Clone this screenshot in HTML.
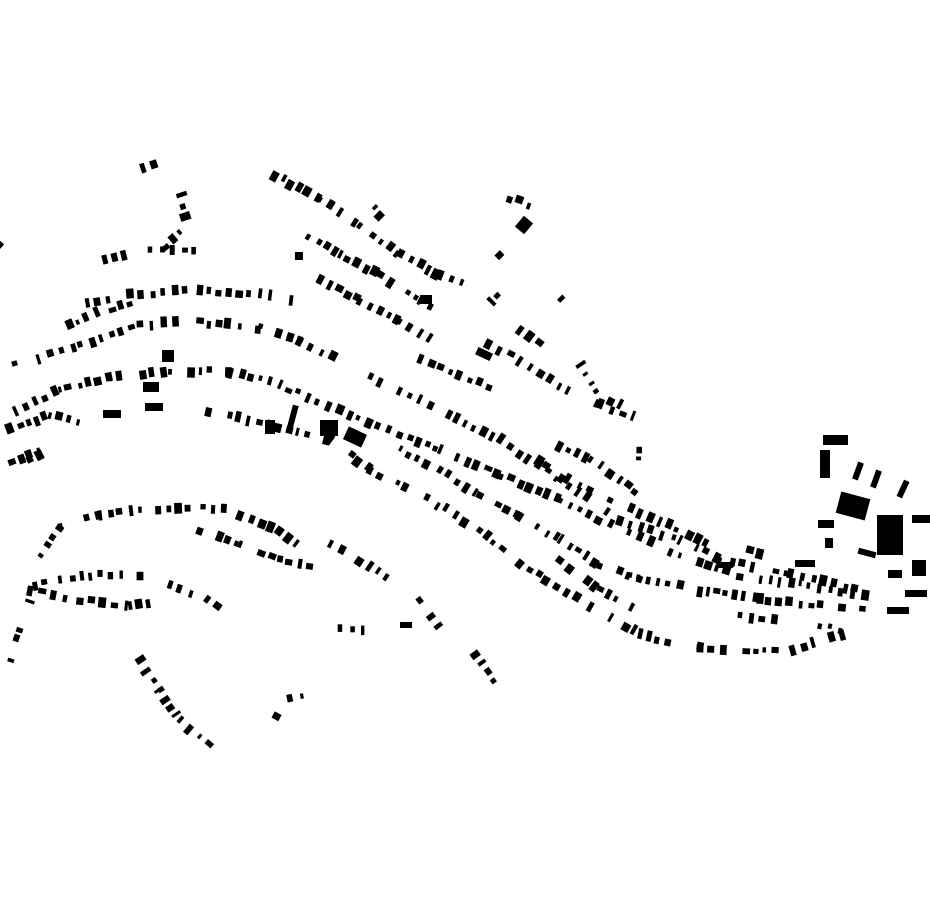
<!DOCTYPE html>
<html><head><meta charset="utf-8"><style>
html,body{margin:0;padding:0;background:#fff;width:930px;height:924px;overflow:hidden}
svg{display:block}
</style></head><body>
<svg id="s" width="930" height="924" viewBox="0 0 930 924" xmlns="http://www.w3.org/2000/svg">
<rect width="930" height="924" fill="#fff"/>
<g id="g" fill="#000">
<rect x="823" y="435" width="25" height="10"/>
<rect x="820" y="450" width="10" height="28"/>
<rect x="838" y="495" width="30" height="22" transform="rotate(15 853 506)"/>
<rect x="877" y="515" width="26" height="40"/>
<rect x="912" y="515" width="18" height="8"/>
<rect x="887" y="607" width="22" height="7"/>
<rect x="905" y="590" width="22" height="7"/>
<rect x="795" y="560" width="20" height="7"/>
<rect x="717" y="562" width="16" height="6"/>
<rect x="818" y="520" width="16" height="8"/>
<rect x="825" y="538" width="8" height="10"/>
<rect x="858" y="550" width="18" height="6" transform="rotate(15 867 553)"/>
<rect x="855" y="462" width="6" height="18" transform="rotate(20 858 471)"/>
<rect x="873" y="470" width="6" height="18" transform="rotate(20 876 479)"/>
<rect x="900" y="480" width="6" height="18" transform="rotate(25 903 489)"/>
<rect x="888" y="570" width="14" height="8"/>
<rect x="912" y="560" width="14" height="16"/>
<rect x="143" y="382" width="16" height="10"/>
<rect x="145" y="403" width="18" height="8"/>
<rect x="103" y="410" width="18" height="8"/>
<rect x="162" y="350" width="12" height="12"/>
<rect x="265" y="420" width="10" height="14"/>
<rect x="320" y="420" width="18" height="16"/>
<rect x="345" y="430" width="20" height="14" transform="rotate(25 355 437)"/>
<rect x="290" y="405" width="6" height="22" transform="rotate(15 293 416)"/>
<rect x="518" y="218" width="12" height="14" transform="rotate(40 524 225)"/>
<rect x="476" y="350" width="16" height="8" transform="rotate(25 484 354)"/>
<rect x="400" y="622" width="12" height="6"/>
<rect x="295" y="252" width="8" height="8"/>
<rect x="420" y="295" width="12" height="9"/>
</g>
</svg>
<script>
var seed=7;function r(){seed=(seed*16807)%2147483647;return (seed-1)/2147483646;}
var L=[
[[75,305],[130,295],[200,290],[260,295],[300,300]],
[[70,325],[100,312],[140,300]],
[[15,365],[80,345],[140,325],[200,322],[260,328],[300,340],[335,358]],
[[15,410],[60,390],[110,378],[170,370],[230,372],[280,385],[340,410],[400,435],[440,450],[500,475],[560,500],[620,530],[680,555],[740,575],[800,585],[870,595]],
[[12,462],[40,452]],[[10,430],[50,415],[90,425]],
[[200,410],[270,425],[330,440],[370,470],[430,500],[480,530],[530,570],[580,600],[640,635],[700,648],[780,652],[850,632]],
[[370,378],[440,410],[500,440],[560,480],[620,520],[680,540],[720,560],[790,575],[860,590]],
[[275,175],[320,200],[360,225],[400,255],[440,275],[465,285]],
[[300,230],[340,255],[380,275],[420,300],[440,310]],
[[320,280],[360,300],[400,320],[440,345]],
[[480,340],[520,360],[560,385],[600,405],[640,420]],
[[540,460],[580,485],[620,505],[680,530],[710,545]],
[[400,450],[440,470],[480,495],[520,515],[560,540],[600,565],[640,580]],
[[560,560],[600,590],[640,610]],
[[630,575],[700,590],[760,600],[820,605],[870,610]],
[[740,615],[780,620]],[[820,625],[850,632]],
[[40,555],[60,525],[100,515],[140,510],[190,508],[230,510]],
[[200,530],[240,545],[280,560],[310,565]],
[[240,515],[280,530],[300,545]],
[[330,545],[360,560],[390,580]],
[[30,590],[80,600],[130,605],[160,600]],
[[35,585],[60,580],[100,575],[140,575]],
[[170,585],[200,595],[220,610]],
[[10,660],[20,630],[30,600]],
[[340,630],[380,630]],[[420,600],[450,640]],[[475,655],[500,690]],
[[140,660],[160,690],[180,720],[210,745]],
[[265,712],[280,720]],[[290,700],[305,697]],
[[135,170],[160,162]],[[180,195],[190,225],[160,250]],
[[150,250],[200,250]],[[105,260],[125,255]],
[[510,198],[530,205]],[[485,240],[500,255]],[[490,300],[500,290]],
[[560,300],[565,305]],[[380,215],[370,205]],
[[420,360],[470,380],[510,395]],[[520,330],[540,345]],
[[580,365],[600,395],[630,410]],
[[560,445],[590,460],[620,480],[640,495]],
[[640,450],[640,460]],[[750,550],[770,555]],
[[30,460],[40,455]],[[0,245],[6,250]]
];
var g=document.getElementById('g'),ns='http://www.w3.org/2000/svg',h='';
L.forEach(function(p){
 for(var i=0;i<p.length-1;i++){
  var a=p[i],b=p[i+1],dx=b[0]-a[0],dy=b[1]-a[1],d=Math.sqrt(dx*dx+dy*dy)||1,ang=Math.atan2(dy,dx)*180/Math.PI;
  for(var t=0;t<d;t+=8+r()*5){
   if(r()<0.15)continue;
   var x=a[0]+dx*t/d,y=a[1]+dy*t/d,w=3+r()*5,hh=5+r()*6;
   var off=(r()-0.5)*4;
   x+= -dy/d*off;y+=dx/d*off;
   h+='<rect x="'+(x-w/2).toFixed(1)+'" y="'+(y-hh/2).toFixed(1)+'" width="'+w.toFixed(1)+'" height="'+hh.toFixed(1)+'" transform="rotate('+ang.toFixed(0)+' '+x.toFixed(1)+' '+y.toFixed(1)+')"/>';
  }
 }
});
g.insertAdjacentHTML('beforeend',h);
</script>
</body></html>
